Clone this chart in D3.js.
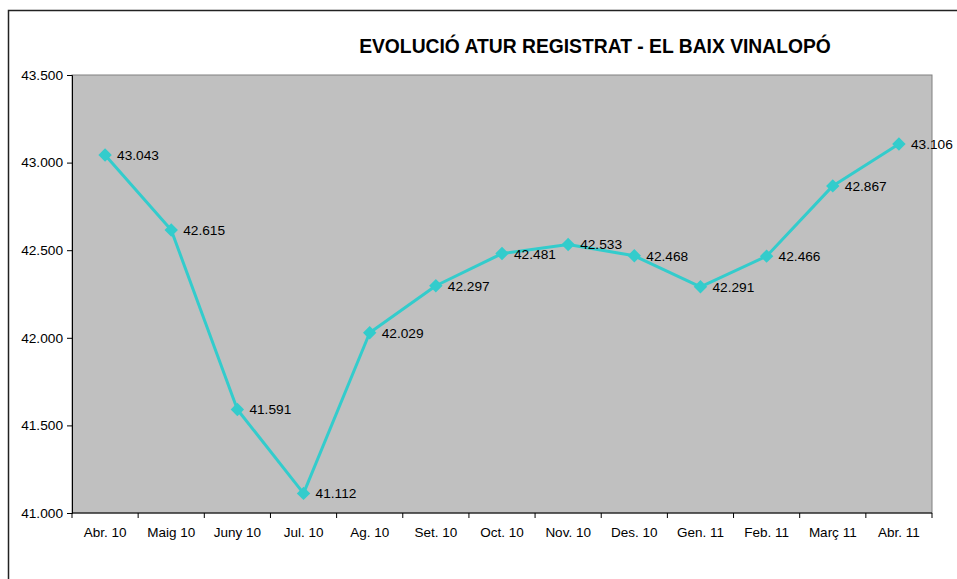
<!DOCTYPE html>
<html>
<head>
<meta charset="utf-8">
<script src="https://cdn.jsdelivr.net/npm/d3@7"></script>
<style>
  html, body { margin: 0; padding: 0; background: #fff; }
  svg { display: block; font-family: "Liberation Sans", Arial, sans-serif; }
</style>
</head>
<body>
<svg id="chart" width="957" height="579"></svg>
<script>
// Registered unemployment, El Baix Vinalopó, April 2010 – April 2011
const months = ["Abr. 10", "Maig 10", "Juny 10", "Jul. 10", "Ag. 10", "Set. 10", "Oct. 10",
                "Nov. 10", "Des. 10", "Gen. 11", "Feb. 11", "Març 11", "Abr. 11"];
const unemployed = [43043, 42615, 41591, 41112, 42029, 42297, 42481, 42533, 42468, 42291, 42466, 42867, 43106];
const yTicks = [41000, 41500, 42000, 42500, 43000, 43500];
const title = "EVOLUCIÓ ATUR REGISTRAT - EL BAIX VINALOPÓ";

const svg = d3.select("#chart");
const plot = { left: 72, top: 75, right: 932, bottom: 513 };

// Catalan-style number format: dot as thousands separator
const fmt = d3.formatLocale({ decimal: ",", thousands: ".", grouping: [3], currency: ["", "€"] }).format(",d");

// Outer chart frame (runs past the right and bottom edges)
svg.append("path")
  .attr("d", "M8.5,979 V10.5 H1000")
  .attr("fill", "none").attr("stroke", "#222").attr("stroke-width", 1.5);

const x = d3.scaleBand().domain(months).range([plot.left, plot.right]).paddingInner(0).paddingOuter(0);
const y = d3.scaleLinear().domain([41000, 43500]).range([plot.bottom, plot.top]);

// Plot area background
svg.append("rect")
  .attr("x", plot.left).attr("y", plot.top)
  .attr("width", plot.right - plot.left).attr("height", plot.bottom - plot.top)
  .attr("fill", "#c0c0c0").attr("stroke", "#808080").attr("stroke-width", 1);

// Y axis
const yAxis = svg.append("g")
  .attr("transform", `translate(${plot.left},0)`)
  .call(d3.axisLeft(y).tickValues(yTicks).tickFormat(fmt).tickSize(5).tickPadding(4));
yAxis.select(".domain").attr("stroke", "#000");
yAxis.selectAll(".tick line").attr("stroke", "#000");
yAxis.selectAll("text").attr("font-size", 13.7).attr("fill", "#000")
  .attr("font-family", "Liberation Sans, Arial, sans-serif");

// X axis: ticks on category boundaries, labels centred in each band
const xAxis = svg.append("g").attr("transform", `translate(0,${plot.bottom})`);
xAxis.append("line")
  .attr("x1", plot.left).attr("x2", plot.right)
  .attr("stroke", "#000");
const bounds = months.map(m => x(m)).concat([plot.right]);
xAxis.selectAll("line.tk").data(bounds).join("line")
  .attr("class", "tk")
  .attr("x1", d => d).attr("x2", d => d)
  .attr("y1", 0).attr("y2", 5)
  .attr("stroke", "#000");
xAxis.selectAll("text").data(months).join("text")
  .attr("x", d => x(d) + x.bandwidth() / 2)
  .attr("y", 24)
  .attr("text-anchor", "middle")
  .attr("font-size", 13.5)
  .attr("fill", "#000")
  .text(d => d);

// Series line
const cx = (d, i) => x(months[i]) + x.bandwidth() / 2;
const line = d3.line().x(cx).y(d => y(d));
svg.append("path")
  .datum(unemployed)
  .attr("d", line)
  .attr("fill", "none")
  .attr("stroke", "#33cccc")
  .attr("stroke-width", 3)
  .attr("stroke-linejoin", "round");

// Diamond markers
svg.append("g").selectAll("path").data(unemployed).join("path")
  .attr("transform", (d, i) => `translate(${cx(d, i)},${y(d)}) rotate(45)`)
  .attr("d", d3.symbol().type(d3.symbolSquare).size(90))
  .attr("fill", "#33cccc");

// Value labels
svg.append("g").selectAll("text").data(unemployed).join("text")
  .attr("x", (d, i) => cx(d, i) + 12)
  .attr("y", d => y(d) + 5)
  .attr("font-size", 13.7)
  .attr("fill", "#000")
  .text(d => fmt(d));

// Title
svg.append("text")
  .attr("x", 595).attr("y", 53)
  .attr("text-anchor", "middle")
  .attr("font-size", 19.3)
  .attr("font-weight", "bold")
  .attr("fill", "#000")
  .text(title);
</script>
</body>
</html>
